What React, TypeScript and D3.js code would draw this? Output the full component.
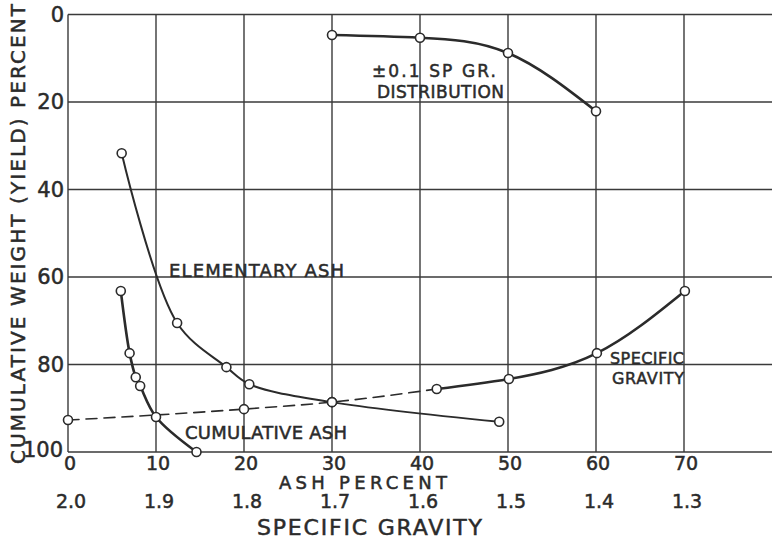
import * as d3 from "d3";

// values: [ash %, cumulative weight %]
const distribution = [
  [30, 4.7],
  [40, 5.3],
  [50, 8.8],
  [60, 22.1],
];
const elementaryAsh = [
  [6.1, 31.7],
  [12.4, 70.5],
  [18.0, 80.6],
  [20.6, 84.5],
  [30.0, 88.6],
  [49.0, 93.1],
];
const cumulativeAsh = [
  [6.0, 63.2],
  [7.0, 77.4],
  [7.7, 82.9],
  [8.2, 84.9],
  [10.0, 92.0],
  [14.6, 100],
];
// specific gravity curve, dashed part then solid part
const spGravityDashed = [
  [0, 92.7],
  [20, 90.2],
  [30, 88.6],
  [41.9, 85.6],
];
const spGravitySolid = [
  [41.9, 85.6],
  [50.1, 83.3],
  [60.1, 77.4],
  [70.1, 63.2],
];

const ashTicks = [0, 10, 20, 30, 40, 50, 60, 70];
const sgTicks = ["2.0", "1.9", "1.8", "1.7", "1.6", "1.5", "1.4", "1.3"];
const yTicks = [0, 20, 40, 60, 80, 100];

const W = 772;
const H = 539;
const ink = "#2b2b2b";
const font = "'DejaVu Sans', sans-serif";

export default function App() {
  const x = d3.scaleLinear().domain([0, 70]).range([68, 684]);
  const y = d3.scaleLinear().domain([0, 100]).range([14.5, 452]);

  const lineWith = (curve) =>
    d3
      .line()
      .x((d) => x(d[0]))
      .y((d) => y(d[1]))
      .curve(curve);
  const natural = lineWith(d3.curveNatural);
  const catmull = lineWith(d3.curveCatmullRom.alpha(0.5));
  const monotone = lineWith(d3.curveMonotoneX);

  const dots = [
    ...distribution,
    ...elementaryAsh,
    ...cumulativeAsh,
    ...spGravityDashed,
    ...spGravitySolid.slice(1),
  ];

  const label = (txt, x0, x1, cy, size) => (
    <text
      key={txt + cy}
      x={x0}
      y={cy}
      fontSize={size}
      textLength={x1 - x0}
      lengthAdjust="spacing"
      dominantBaseline="central"
    >
      {txt}
    </text>
  );

  return (
    <svg
      width={W}
      height={H}
      style={{ position: "absolute", left: 0, top: 0, background: "#fff" }}
      fontFamily={font}
    >
      <rect width={W} height={H} fill="#fff" />
      {/* grid */}
      <g stroke="#3a3a3a" strokeWidth={1.4}>
        {yTicks.map((t) => (
          <line key={"h" + t} x1={x(0)} x2={W} y1={y(t)} y2={y(t)} />
        ))}
        {ashTicks.map((t) => (
          <line key={"v" + t} x1={x(t)} x2={x(t)} y1={y(0)} y2={y(100)} />
        ))}
      </g>

      {/* curves */}
      <g fill="none" stroke={ink} strokeWidth={2.6} strokeLinecap="round">
        <path d={natural(distribution)} />
        <path d={catmull(elementaryAsh)} strokeWidth={2} />
        <path d={catmull(cumulativeAsh)} />
        <path d={monotone(spGravityDashed)} strokeWidth={1.6} strokeDasharray="11 7" />
        <path d={natural(spGravitySolid)} />
      </g>
      <g fill="#fff" stroke={ink} strokeWidth={1.6}>
        {dots.map((d, i) => (
          <circle key={i} cx={x(d[0])} cy={y(d[1])} r={4.5} />
        ))}
      </g>

      <g fill={ink} stroke={ink} strokeWidth={0.5}>
        {/* y tick labels */}
        {yTicks.map((t) => (
          <text
            key={"yt" + t}
            x={t === 100 ? 63 : 64}
            y={t === 100 ? y(t) - 2 : y(t)}
            fontSize={21}
            textAnchor="end"
            dominantBaseline="central"
          >
            {t}
          </text>
        ))}
        {/* x tick labels */}
        {ashTicks.map((t) => (
          <text
            key={"xt" + t}
            x={x(t) + 2}
            y={463}
            fontSize={19}
            textAnchor="middle"
            dominantBaseline="central"
          >
            {t}
          </text>
        ))}
        {sgTicks.map((s, i) => (
          <text
            key={"sg" + s}
            x={x(ashTicks[i]) + 3}
            y={501}
            fontSize={19}
            textAnchor="middle"
            dominantBaseline="central"
          >
            {s}
          </text>
        ))}

        {/* axis titles */}
        {label("ASH PERCENT", 279, 447, 482, 18)}
        {label("SPECIFIC GRAVITY", 257, 482, 527, 22)}
        <g transform="translate(18,464) rotate(-90)">
          <text
            x={0}
            y={0}
            fontSize={20}
            textLength={460}
            lengthAdjust="spacing"
            dominantBaseline="central"
          >
            CUMULATIVE WEIGHT (YIELD) PERCENT
          </text>
        </g>

        {/* curve labels */}
        {label("±0.1   SP  GR.", 372, 496, 71, 17)}
        {label("DISTRIBUTION", 377, 504, 92, 17)}
        {label("ELEMENTARY ASH", 169, 344, 270, 18)}
        {label("CUMULATIVE ASH", 185, 347, 432, 18)}
        {label("SPECIFIC", 610, 684, 358, 16)}
        {label("GRAVITY", 612, 684, 378, 16)}
      </g>
    </svg>
  );
}
